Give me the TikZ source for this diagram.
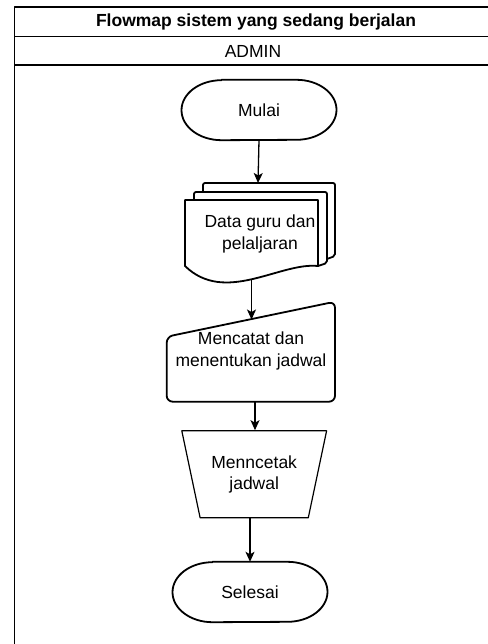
\documentclass[tikz,border=0pt]{standalone}
\usepackage{fontspec}
\setmainfont{Liberation Sans}
\usetikzlibrary{shapes.geometric,arrows.meta}

\tikzset{
  box/.style={line width=1.8pt},
  flow/.style={-{Stealth[length=10pt,width=9pt,inset=2.5pt]},line width=1.3pt},
  term/.style={minimum width=155pt,minimum height=60pt,inner sep=0pt}
}
% outline of a start/end node
\newcommand{\termshape}[1]{%
  \draw [box] ([xshift=-37.5pt]#1.north) -- ([xshift=37.5pt]#1.north)
    arc [start angle=90,end angle=-90,x radius=40pt,y radius=30pt]
    -- ([xshift=-37.5pt]#1.south)
    arc [start angle=270,end angle=90,x radius=40pt,y radius=30pt] -- cycle;}

\begin{document}
\begin{tikzpicture}[x=1pt,y=-1pt,line join=round,font=\fontsize{17.5}{21.5}\selectfont]
        \useasboundingbox (0,0) rectangle (487,644);

        % lane header
        \draw [box] (500,7) -- (14.5,7) -- (14.5,660);
        \draw [box] (14.5,36.5) -- (500,36.5);
        \draw [box] (14.5,65) -- (500,65);
        \draw (256,22) node (title) [font=\fontsize{17.5}{21}\selectfont\bfseries] {Flowmap sistem yang sedang berjalan};
        \draw (253,51) node (lane) {ADMIN};

        \draw (259,110) node (mulai) [term] {Mulai};
        \termshape{mulai}

        % stacked documents
        \draw [box,rounded corners=2pt] (203,192) -- (203,183) -- (335,183) -- (335,256) -- (327,259);
        \draw [box,rounded corners=2pt] (194,200) -- (194,192) -- (327,192) -- (327,263) -- (318,266);
        \draw [box,fill=white] (185,200) -- (318,200) -- (318,266) .. controls (280,262) and (225,305) .. (185,266) -- cycle;
        \draw (260,234) node (data) [align=center] {Data guru dan\\pelaljaran};
        \coordinate (data-in) at (258,183);
        \coordinate (data-out) at (251.5,279);

        % manual input
        \draw [box,rounded corners=6pt] (166.7,336.7) -- (335,301.7) -- (335,401.7) -- (166.7,401.7) -- cycle;
        \draw (251,351) node (catat) [align=center] {Mencatat dan\\menentukan jadwal};
        \coordinate (catat-in) at (251.5,319.5);
        \coordinate (catat-out) at (255,401.7);

        \draw (254.2,474.3) node (cetak) [trapezium,shape border rotate=180,trapezium angle=69,trapezium stretches=true,minimum width=145pt,minimum height=87pt,draw,line width=1.2pt,align=center,inner sep=0pt] {Menncetak\\jadwal};

        \draw (250,592) node (selesai) [term] {Selesai};
        \termshape{selesai}

        \draw [flow] (mulai.south) -- (data-in);
        \draw [flow] (data-out) -- (catat-in);
        \draw [flow] (catat-out) -- (catat-out |- cetak.north);
        \draw [flow] (selesai.north |- cetak.south) -- (selesai.north);
\end{tikzpicture}
\end{document}
